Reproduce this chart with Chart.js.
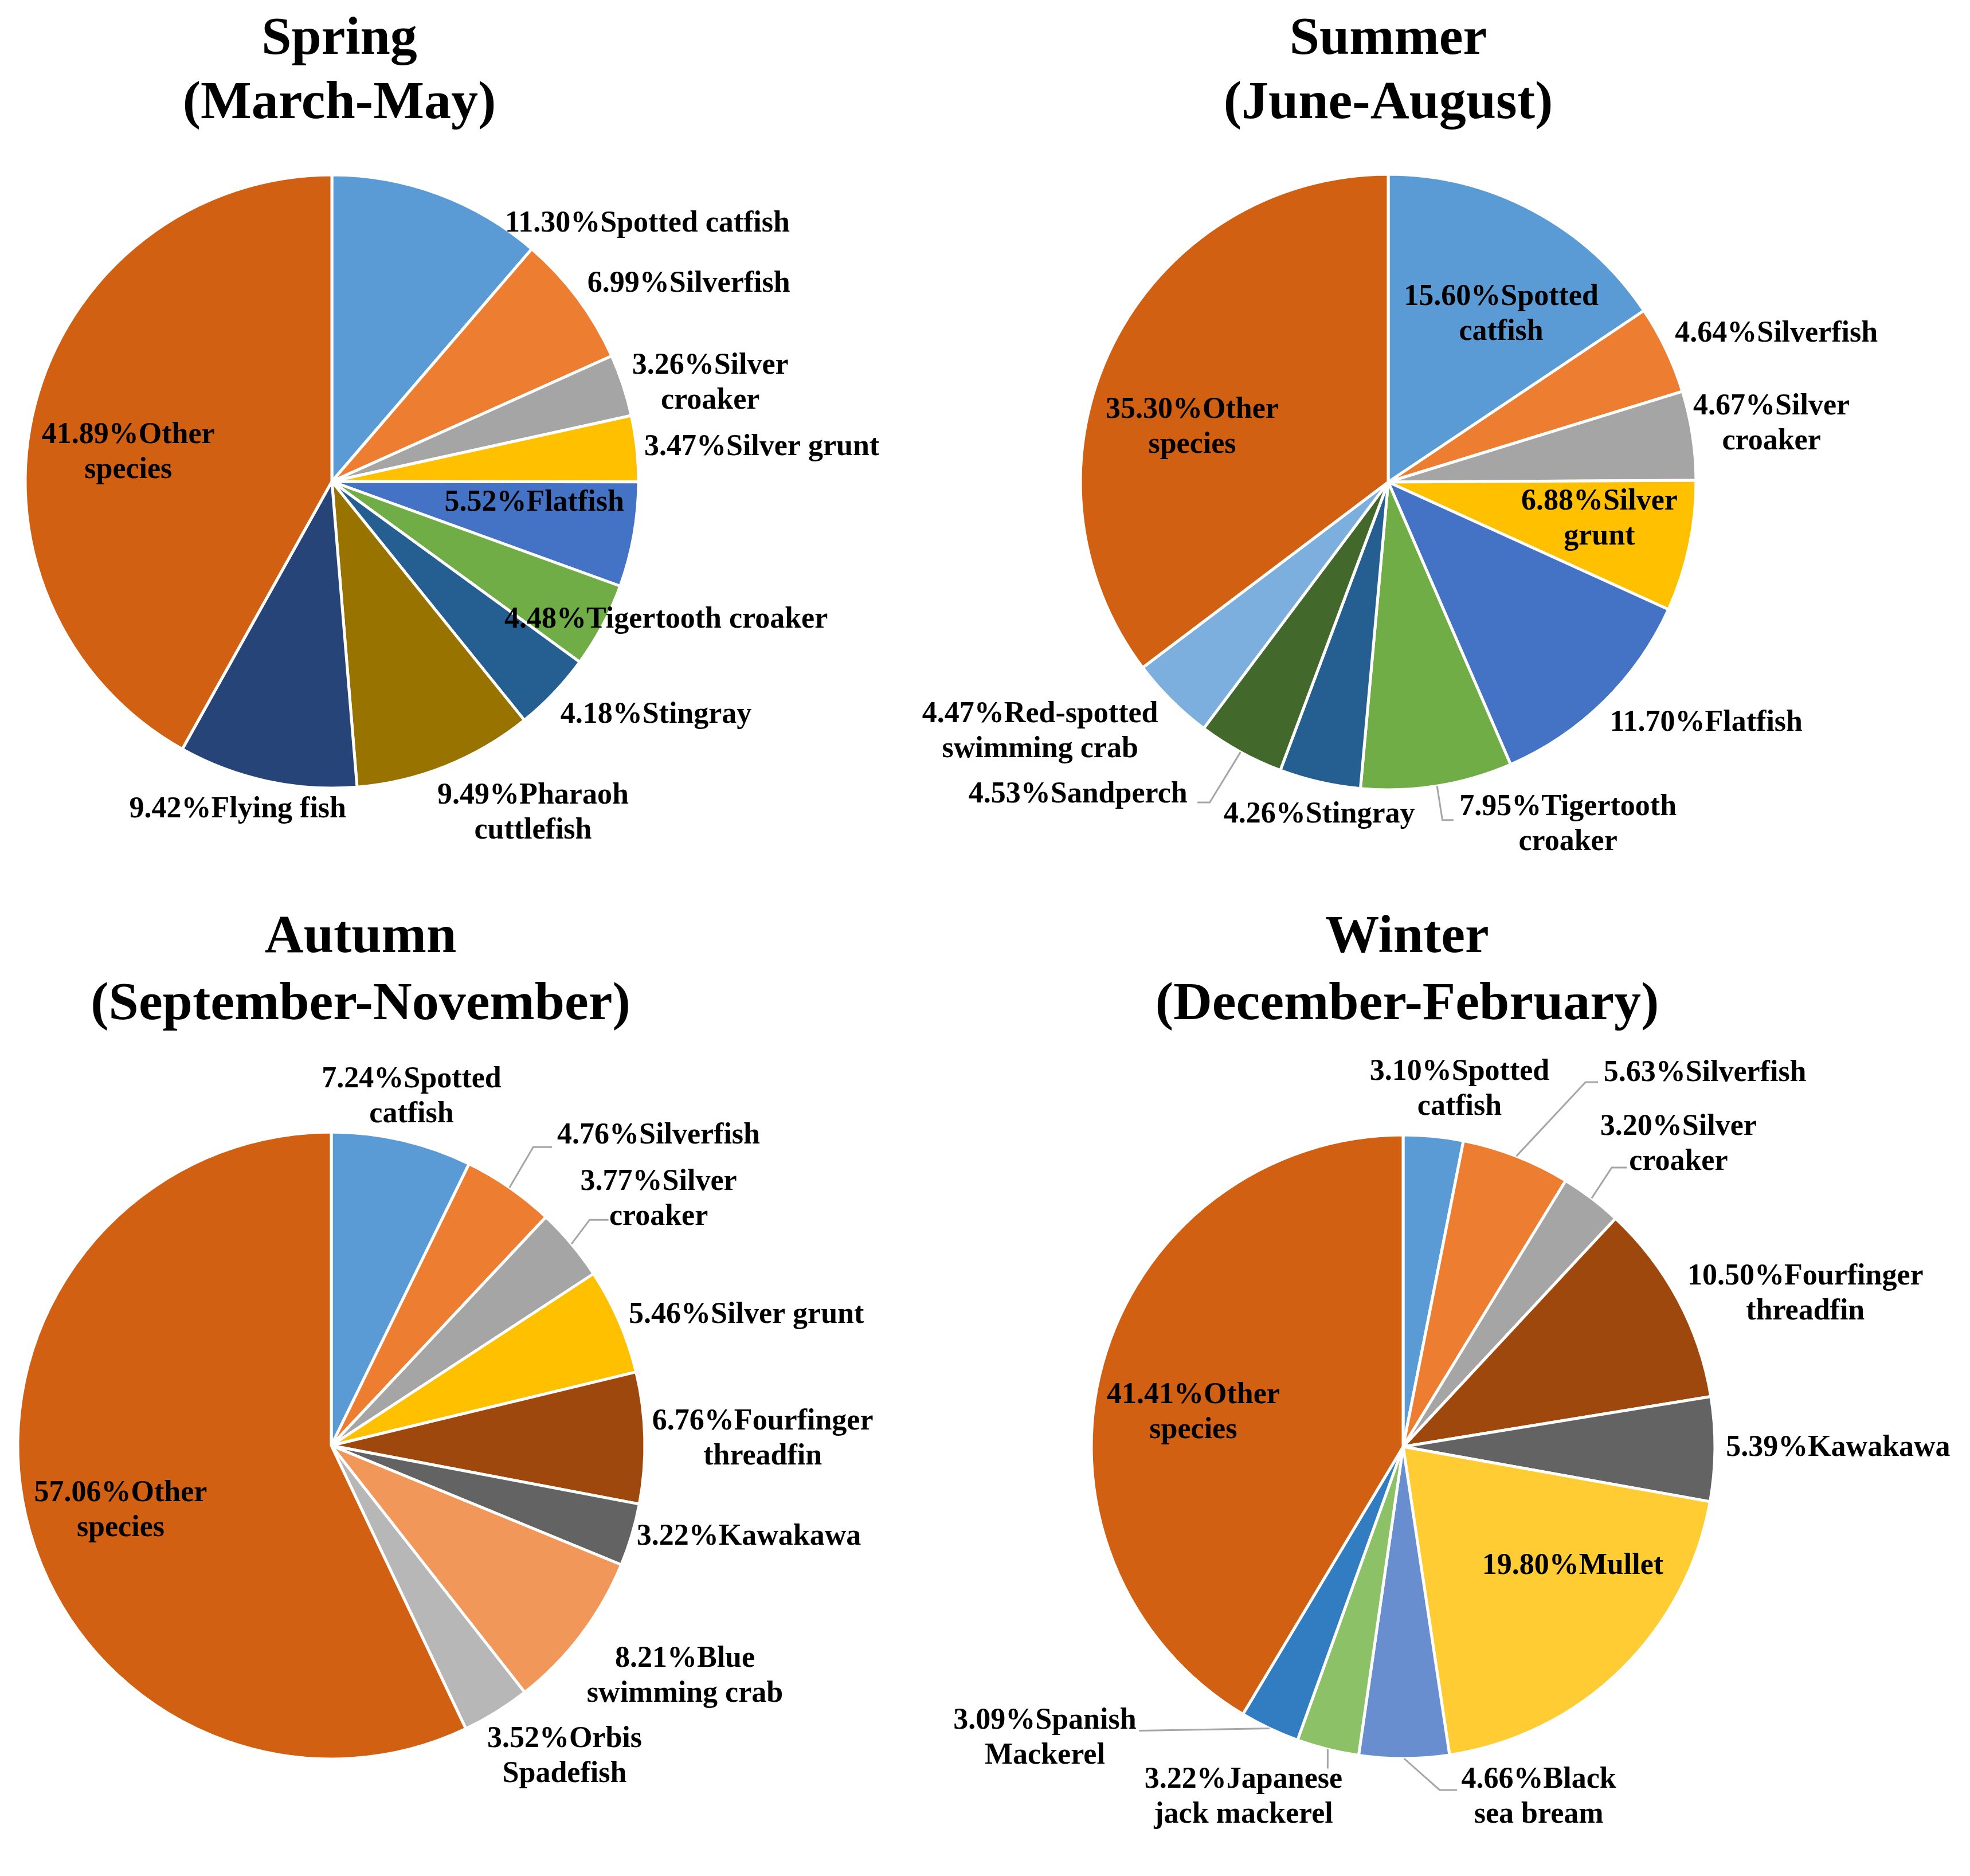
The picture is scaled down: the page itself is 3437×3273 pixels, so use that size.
<!DOCTYPE html>
<html>
<head>
<meta charset="utf-8">
<title>Seasonal catch composition</title>
<script src="https://cdn.jsdelivr.net/npm/chart.js@4.4.1/dist/chart.umd.min.js"></script>
<style>
  html, body { margin: 0; padding: 0; background: #fff; }
  #page { position: relative; width: 3437px; height: 3273px; }
  #page canvas { position: absolute; left: 0; top: 0; }
</style>
</head>
<body>
<div id="page">
  <canvas id="spring" width="3437" height="3273"></canvas>
  <canvas id="summer" width="3437" height="3273"></canvas>
  <canvas id="autumn" width="3437" height="3273"></canvas>
  <canvas id="winter" width="3437" height="3273"></canvas>
</div>
<script>
// ---- data (percent of catch, clockwise from 12 o'clock) ----
var springSpecies = ['Spotted catfish', 'Silverfish', 'Silver croaker', 'Silver grunt', 'Flatfish',
  'Tigertooth croaker', 'Stingray', 'Pharaoh cuttlefish', 'Flying fish', 'Other species'];
var springShare = [11.30, 6.99, 3.26, 3.47, 5.52, 4.48, 4.18, 9.49, 9.42, 41.89];

var summerSpecies = ['Spotted catfish', 'Silverfish', 'Silver croaker', 'Silver grunt', 'Flatfish',
  'Tigertooth croaker', 'Stingray', 'Sandperch', 'Red-spotted swimming crab', 'Other species'];
var summerShare = [15.60, 4.64, 4.67, 6.88, 11.70, 7.95, 4.26, 4.53, 4.47, 35.30];

var autumnSpecies = ['Spotted catfish', 'Silverfish', 'Silver croaker', 'Silver grunt', 'Fourfinger threadfin',
  'Kawakawa', 'Blue swimming crab', 'Orbis Spadefish', 'Other species'];
var autumnShare = [7.24, 4.76, 3.77, 5.46, 6.76, 3.22, 8.21, 3.52, 57.06];

var winterSpecies = ['Spotted catfish', 'Silverfish', 'Silver croaker', 'Fourfinger threadfin', 'Kawakawa',
  'Mullet', 'Black sea bream', 'Japanese jack mackerel', 'Spanish Mackerel', 'Other species'];
var winterShare = [3.10, 5.63, 3.20, 10.50, 5.39, 19.80, 4.66, 3.22, 3.09, 41.41];

// ---- styles ----
var speciesColor = {
  'Spotted catfish': '#5B9BD5',
  'Silverfish': '#ED7D31',
  'Silver croaker': '#A5A5A5',
  'Silver grunt': '#FFC000',
  'Flatfish': '#4472C4',
  'Tigertooth croaker': '#70AD47',
  'Stingray': '#255E91',
  'Pharaoh cuttlefish': '#997300',
  'Flying fish': '#264478',
  'Sandperch': '#43682B',
  'Red-spotted swimming crab': '#7CAFDD',
  'Fourfinger threadfin': '#9E480E',
  'Kawakawa': '#636363',
  'Blue swimming crab': '#F1975A',
  'Orbis Spadefish': '#B7B7B7',
  'Mullet': '#FFCD33',
  'Black sea bream': '#698ED0',
  'Japanese jack mackerel': '#8CC168',
  'Spanish Mackerel': '#327DC2',
  'Other species': '#D26012'
};

var PAGE_W = 3437, PAGE_H = 3273;
var FONT = '"Liberation Serif", "Times New Roman", serif';

// label spots: position relative to pie centre in radius units, wrap at first space,
// optional leader polyline (starts on the slice edge)
var springSpots = [
  { at: [1.029, -0.840] },
  { at: [1.164, -0.643] },
  { at: [1.234, -0.320], wrap: true },
  { at: [1.402, -0.111] },
  { at: [0.660, 0.070] },
  { at: [1.090, 0.451] },
  { at: [1.057, 0.762] },
  { at: [0.656, 1.082], wrap: true },
  { at: [-0.307, 1.070] },
  { at: [-0.664, -0.094], wrap: true }
];
var summerSpots = [
  { at: [0.367, -0.543], wrap: true },
  { at: [1.261, -0.482] },
  { at: [1.245, -0.188], wrap: true },
  { at: [0.686, 0.122], wrap: true },
  { at: [1.033, 0.784] },
  { at: [0.584, 1.114], wrap: true, lead: [[0.176, 1.098], [0.212, 1.098]] },
  { at: [-0.224, 1.082] },
  { at: [-1.008, 1.016], lead: [[-0.580, 1.041], [-0.620, 1.041]] },
  { at: [-1.131, 0.812], wrap: true },
  { at: [-0.637, -0.176], wrap: true }
];
var autumnSpots = [
  { at: [0.256, -1.112], wrap: true },
  { at: [1.044, -0.988], lead: [[0.644, -0.952], [0.704, -0.952]] },
  { at: [1.044, -0.784], wrap: true, lead: [[0.824, -0.720], [0.884, -0.720]] },
  { at: [1.324, -0.416] },
  { at: [1.376, -0.020], wrap: true },
  { at: [1.332, 0.292] },
  { at: [1.128, 0.736], wrap: true },
  { at: [0.744, 0.992], wrap: true },
  { at: [-0.672, 0.208], wrap: true }
];
var winterSpots = [
  { at: [0.181, -1.145], wrap: true },
  { at: [0.968, -1.198], lead: [[0.585, -1.169], [0.625, -1.169]] },
  { at: [0.883, -0.968], wrap: true, lead: [[0.669, -0.895], [0.718, -0.895]] },
  { at: [1.290, -0.488], wrap: true },
  { at: [1.395, 0.004] },
  { at: [0.544, 0.383] },
  { at: [0.435, 1.125], wrap: true, lead: [[0.117, 1.101], [0.173, 1.101]] },
  { at: [-0.512, 1.125], wrap: true, lead: [[-0.242, 1.032]] },
  { at: [-1.149, 0.935], wrap: true, lead: [[-0.847, 0.911]] },
  { at: [-0.673, -0.109], wrap: true }
];

// pie centre / radius and title placement on the page
var springGeo = { cx: 579, cy: 840, r: 535, tx: 592, ty: [70, 182] };
var summerGeo = { cx: 2422, cy: 841, r: 537, tx: 2422, ty: [70, 182] };
var autumnGeo = { cx: 578, cy: 2522, r: 547, tx: 629, ty: [1637, 1754] };
var winterGeo = { cx: 2448, cy: 2524, r: 544, tx: 2455, ty: [1637, 1754] };

var sliceLabels = {
  id: 'sliceLabels',
  afterDatasetsDraw: function(chart, args, opts) {
    var ctx = chart.ctx;
    var meta = chart.getDatasetMeta(0);
    var values = chart.data.datasets[0].data;
    ctx.save();
    ctx.textAlign = 'center';
    ctx.textBaseline = 'middle';
    ctx.fillStyle = '#000';

    ctx.font = 'bold 94px ' + FONT;
    opts.title.forEach(function(t, i) { ctx.fillText(t, opts.geo.tx, opts.geo.ty[i]); });

    ctx.font = 'bold 52px ' + FONT;
    meta.data.forEach(function(arc, i) {
      var p = arc.getProps(['x', 'y', 'outerRadius', 'startAngle', 'endAngle'], true);
      var spot = opts.spots[i];
      var R = p.outerRadius;
      if (spot.lead) {
        var mid = (p.startAngle + p.endAngle) / 2;
        ctx.beginPath();
        ctx.moveTo(p.x + Math.cos(mid) * R, p.y + Math.sin(mid) * R);
        spot.lead.forEach(function(q) { ctx.lineTo(p.x + q[0] * R, p.y + q[1] * R); });
        ctx.strokeStyle = '#A6A6A6';
        ctx.lineWidth = 3;
        ctx.stroke();
      }
      var text = values[i].toFixed(2) + '%' + chart.data.labels[i];
      var lines = [text];
      if (spot.wrap) {
        var k = text.indexOf(' ');
        lines = [text.slice(0, k), text.slice(k + 1)];
      }
      var lx = p.x + spot.at[0] * R, ly = p.y + spot.at[1] * R;
      lines.forEach(function(ln, j) {
        ctx.fillText(ln, lx, ly + (j - (lines.length - 1) / 2) * 61);
      });
    });
    ctx.restore();
  }
};

function makePie(id, title, species, share, spots, geo) {
  var m = 20;
  new Chart(document.getElementById(id), {
    type: 'pie',
    data: {
      labels: species,
      datasets: [{
        data: share,
        backgroundColor: species.map(function(s) { return speciesColor[s]; }),
        borderColor: '#FFFFFF',
        borderWidth: 5,
        hoverOffset: 0,
        radius: geo.r
      }]
    },
    options: {
      responsive: false,
      devicePixelRatio: 1,
      animation: false,
      events: [],
      layout: {
        padding: {
          left: geo.cx - geo.r - m,
          right: PAGE_W - geo.cx - geo.r - m,
          top: geo.cy - geo.r - m,
          bottom: PAGE_H - geo.cy - geo.r - m
        }
      },
      plugins: {
        legend: { display: false },
        tooltip: { enabled: false },
        title: { display: false },
        sliceLabels: { title: title, spots: spots, geo: geo }
      }
    },
    plugins: [sliceLabels]
  });
}

makePie('spring', ['Spring', '(March-May)'], springSpecies, springShare, springSpots, springGeo);
makePie('summer', ['Summer', '(June-August)'], summerSpecies, summerShare, summerSpots, summerGeo);
makePie('autumn', ['Autumn', '(September-November)'], autumnSpecies, autumnShare, autumnSpots, autumnGeo);
makePie('winter', ['Winter', '(December-February)'], winterSpecies, winterShare, winterSpots, winterGeo);
</script>
</body>
</html>
